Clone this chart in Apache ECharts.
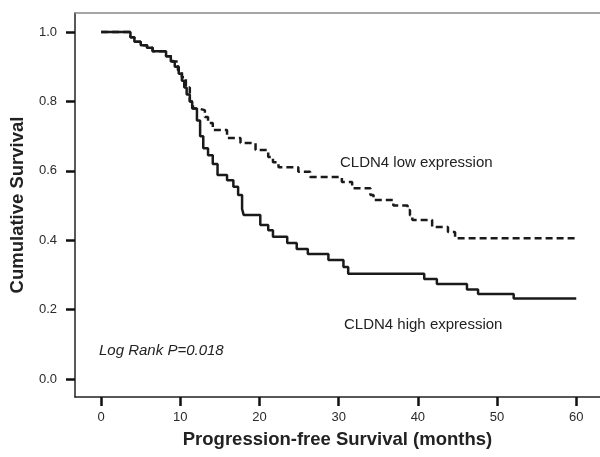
<!DOCTYPE html>
<html><head><meta charset="utf-8">
<script src="https://cdn.jsdelivr.net/npm/echarts@6/dist/echarts.min.js"></script>
<style>html,body{margin:0;padding:0;background:#fff}#c{width:600px;height:457px}</style>
</head><body><div id="c"></div>
<script>
// Kaplan-Meier step points [months, survival] (value holds until next point)
var lowTimes =  [0, 3.7, 4.2, 5.0, 5.8, 6.5, 8.2, 9.0, 9.7, 10.2, 10.7, 11.2, 11.6, 12.2, 13.1, 13.5, 14.1, 15.9, 17.6, 19.5, 21.1, 21.7, 22.4, 24.9, 26.4, 30.4, 31.7, 34.0, 34.4, 36.9, 38.7, 39.0, 39.3, 41.8, 43.8, 44.7, 60];
var lowSurv  =  [1.0, 0.985, 0.972, 0.962, 0.955, 0.945, 0.93, 0.915, 0.89, 0.87, 0.84, 0.80, 0.78, 0.775, 0.755, 0.738, 0.718, 0.695, 0.68, 0.66, 0.64, 0.625, 0.61, 0.597, 0.582, 0.568, 0.55, 0.53, 0.516, 0.50, 0.487, 0.472, 0.458, 0.438, 0.424, 0.406, 0.406];
var highTimes = [0, 3.7, 4.2, 5.0, 5.8, 6.5, 8.2, 8.8, 9.3, 9.8, 10.2, 10.5, 10.8, 11.2, 11.5, 12.1, 12.5, 12.9, 13.5, 14.1, 14.7, 15.9, 16.7, 17.3, 17.8, 18.0, 20.1, 21.1, 21.7, 23.5, 24.7, 26.1, 28.7, 30.6, 31.2, 40.8, 42.4, 46.2, 47.6, 52.1, 60];
var highSurv  = [1.0, 0.985, 0.972, 0.962, 0.955, 0.945, 0.93, 0.915, 0.90, 0.88, 0.86, 0.84, 0.82, 0.80, 0.78, 0.745, 0.70, 0.665, 0.645, 0.62, 0.588, 0.573, 0.554, 0.53, 0.49, 0.473, 0.444, 0.429, 0.41, 0.392, 0.375, 0.36, 0.343, 0.323, 0.303, 0.288, 0.274, 0.258, 0.245, 0.232, 0.232];
var xTicks = [0, 10, 20, 30, 40, 50, 60];
var yTicks = [0.0, 0.2, 0.4, 0.6, 0.8, 1.0];

function pairs(t, s) { return t.map(function (v, i) { return [v, s[i]]; }); }

var FF = 'Liberation Sans, Arial, sans-serif';
var chart = echarts.init(document.getElementById('c'), null, {renderer: 'canvas'});
var tickFont = {color: '#2a2a2a', fontSize: 13, fontFamily: FF};
chart.setOption({
  animation: false,
  backgroundColor: '#fff',
  grid: {left: 75, right: 0, top: 13, bottom: 60},
  xAxis: [{
    type: 'value', min: -3.3, max: 63, position: 'bottom',
    splitLine: {show: false},
    axisLine: {onZero: false, lineStyle: {color: '#222', width: 1.5}},
    axisTick: {show: true, length: 9, lineStyle: {color: '#111', width: 2.5}, customValues: xTicks},
    axisLabel: Object.assign({margin: 14, customValues: xTicks, formatter: function (v) { return String(v); }}, tickFont),
    name: 'Progression-free Survival (months)', nameLocation: 'middle', nameGap: 33,
    nameTextStyle: {fontSize: 18.5, fontWeight: 'bold', color: '#222', fontFamily: FF}
  }, {
    type: 'value', min: -3.3, max: 63, position: 'top',
    splitLine: {show: false}, axisTick: {show: false}, axisLabel: {show: false},
    axisLine: {show: true, onZero: false, lineStyle: {color: '#888', width: 1.5}}
  }],
  yAxis: {
    type: 'value', min: -0.052, max: 1.055,
    splitLine: {show: false},
    axisLine: {show: true, onZero: false, lineStyle: {color: '#222', width: 1.5}},
    axisTick: {show: true, length: 9, lineStyle: {color: '#111', width: 2.5}, customValues: yTicks},
    axisLabel: Object.assign({margin: 18, customValues: yTicks, formatter: function (v) { return v.toFixed(1); }}, tickFont),
    name: 'Cumulative Survival', nameLocation: 'middle', nameGap: 48,
    nameTextStyle: {fontSize: 18.5, fontWeight: 'bold', color: '#222', fontFamily: FF}
  },
  series: [{
    name: 'CLDN4 low expression', type: 'line', step: 'end', data: pairs(lowTimes, lowSurv),
    showSymbol: false, symbol: 'none',
    lineStyle: {color: '#1a1a1a', width: 2.5, type: [7, 4]}
  }, {
    name: 'CLDN4 high expression', type: 'line', step: 'end', data: pairs(highTimes, highSurv),
    showSymbol: false, symbol: 'none',
    lineStyle: {color: '#1a1a1a', width: 2.5}
  }],
  graphic: [
    {type: 'text', left: 340, top: 155, style: {text: 'CLDN4 low expression', fontSize: 15, fill: '#222', fontFamily: FF}},
    {type: 'text', left: 344, top: 317, style: {text: 'CLDN4 high expression', fontSize: 15, fill: '#222', fontFamily: FF}},
    {type: 'text', left: 99, top: 343, style: {text: 'Log Rank P=0.018', fontSize: 15, fontStyle: 'italic', fill: '#222', fontFamily: FF}}
  ]
});
</script></body></html>
